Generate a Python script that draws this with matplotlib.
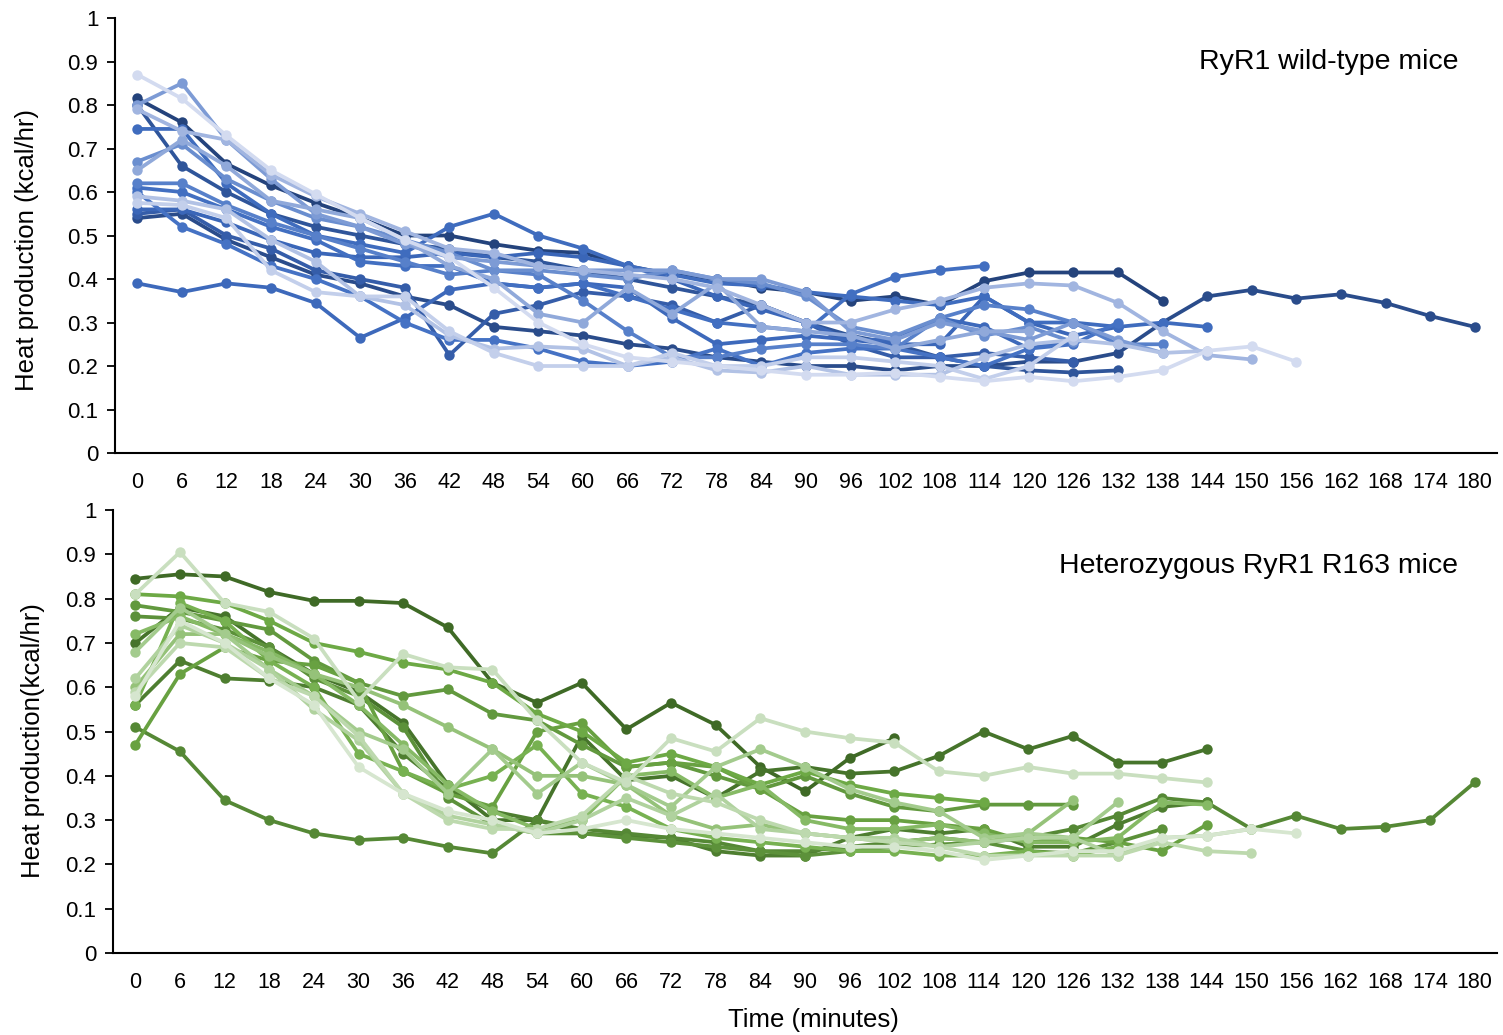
import numpy as np
import matplotlib
matplotlib.use("Agg")
import matplotlib.pyplot as plt
from matplotlib.colors import LinearSegmentedColormap

plt.rcParams["font.family"] = ["Liberation Sans", "DejaVu Sans"]

# Time points (minutes)
times = [0, 6, 12, 18, 24, 30, 36, 42, 48, 54, 60, 66, 72, 78, 84, 90,
         96, 102, 108, 114, 120, 126, 132, 138, 144, 150, 156, 162, 168, 174, 180]

# RyR1 wild-type mice, heat production (kcal/hr), one list per mouse
wt_01 = [0.815, 0.76, 0.665, 0.615, 0.575, 0.54, 0.50, 0.50, 0.48, 0.465, 0.46, 0.43, 0.41, 0.40, 0.38, 0.37,
         0.35, 0.36, 0.34, 0.395, 0.415, 0.415, 0.415, 0.35]
wt_02 = [0.54, 0.55, 0.49, 0.45, 0.41, 0.39, 0.36, 0.34, 0.29, 0.28, 0.27, 0.25, 0.24, 0.22, 0.21, 0.20,
         0.20, 0.19, 0.20, 0.20, 0.21, 0.21, 0.23, 0.30, 0.36, 0.375, 0.355, 0.365, 0.345, 0.315, 0.29]
wt_03 = [0.80, 0.66, 0.60, 0.55, 0.52, 0.50, 0.48, 0.47, 0.45, 0.44, 0.42, 0.40, 0.38, 0.36, 0.34, 0.30,
         0.27, 0.25, 0.22, 0.20, 0.19, 0.185, 0.19]
wt_04 = [0.55, 0.56, 0.50, 0.47, 0.42, 0.40, 0.38, 0.225, 0.32, 0.34, 0.37, 0.36, 0.34, 0.30, 0.34, 0.30,
         0.25, 0.22, 0.22, 0.23, 0.22, 0.21]
wt_05 = [0.56, 0.56, 0.53, 0.49, 0.46, 0.45, 0.45, 0.46, 0.45, 0.46, 0.45, 0.43, 0.40, 0.36, 0.33, 0.30,
         0.26, 0.25, 0.25, 0.36, 0.30, 0.27, 0.29]
wt_06 = [0.39, 0.37, 0.39, 0.38, 0.345, 0.265, 0.31, 0.375, 0.39, 0.38, 0.39, 0.38, 0.31, 0.25, 0.26, 0.27,
         0.26, 0.26, 0.31, 0.29, 0.24, 0.26]
wt_07 = [0.745, 0.745, 0.62, 0.55, 0.50, 0.48, 0.46, 0.52, 0.55, 0.50, 0.47, 0.43, 0.41, 0.39, 0.385, 0.37,
         0.36, 0.35, 0.34, 0.36, 0.30, 0.30, 0.29, 0.30, 0.29]
wt_08 = [0.61, 0.60, 0.56, 0.52, 0.49, 0.44, 0.43, 0.43, 0.39, 0.38, 0.39, 0.36, 0.33, 0.30, 0.29, 0.28,
         0.365, 0.405, 0.42, 0.43]
wt_09 = [0.60, 0.52, 0.48, 0.43, 0.40, 0.36, 0.30, 0.26, 0.26, 0.24, 0.21, 0.20, 0.21, 0.24, 0.20, 0.23,
         0.24, 0.24, 0.22, 0.20, 0.24, 0.25, 0.30]
wt_10 = [0.62, 0.62, 0.57, 0.53, 0.50, 0.47, 0.44, 0.41, 0.42, 0.41, 0.35, 0.28, 0.22, 0.22, 0.24, 0.25,
         0.25, 0.24, 0.31, 0.34, 0.33, 0.30, 0.25, 0.25]
wt_11 = [0.67, 0.71, 0.63, 0.58, 0.54, 0.52, 0.49, 0.46, 0.42, 0.42, 0.41, 0.40, 0.42, 0.40, 0.39, 0.36,
         0.29, 0.27, 0.31, 0.27, 0.29, 0.255]
wt_12 = [0.80, 0.85, 0.72, 0.63, 0.55, 0.52, 0.48, 0.45, 0.44, 0.43, 0.42, 0.42, 0.42, 0.40, 0.40, 0.37,
         0.28, 0.26, 0.30, 0.28, 0.26, 0.30, 0.26, 0.23]
wt_13 = [0.65, 0.72, 0.66, 0.58, 0.56, 0.54, 0.49, 0.43, 0.40, 0.32, 0.30, 0.38, 0.32, 0.39, 0.29, 0.28,
         0.27, 0.24, 0.26, 0.28, 0.28]
wt_14 = [0.79, 0.74, 0.72, 0.64, 0.59, 0.55, 0.51, 0.47, 0.46, 0.43, 0.42, 0.41, 0.40, 0.38, 0.34, 0.30,
         0.30, 0.33, 0.35, 0.38, 0.39, 0.385, 0.345, 0.28, 0.225, 0.215]
wt_15 = [0.59, 0.58, 0.56, 0.49, 0.44, 0.36, 0.34, 0.27, 0.24, 0.245, 0.24, 0.20, 0.22, 0.19, 0.185, 0.20,
         0.18, 0.18, 0.18, 0.22, 0.25, 0.26, 0.25, 0.23, 0.235]
wt_16 = [0.575, 0.57, 0.54, 0.42, 0.37, 0.36, 0.36, 0.28, 0.23, 0.20, 0.20, 0.20, 0.23, 0.20, 0.20, 0.22,
         0.22, 0.21, 0.20, 0.17, 0.20, 0.27]
wt_17 = [0.87, 0.815, 0.73, 0.65, 0.595, 0.54, 0.49, 0.45, 0.38, 0.30, 0.25, 0.22, 0.21, 0.20, 0.19, 0.18,
         0.18, 0.185, 0.175, 0.165, 0.175, 0.165, 0.175, 0.19, 0.235, 0.245, 0.21]

# Heterozygous RyR1 R163 mice
het_01 = [0.845, 0.855, 0.85, 0.815, 0.795, 0.795, 0.79, 0.735, 0.61, 0.565, 0.61, 0.505, 0.565, 0.515, 0.42,
          0.365, 0.44, 0.485]
het_02 = [0.70, 0.78, 0.76, 0.69, 0.63, 0.59, 0.52, 0.38, 0.30, 0.30, 0.49, 0.39, 0.40, 0.35, 0.41, 0.42,
          0.405, 0.41, 0.445, 0.50, 0.46, 0.49, 0.43, 0.43, 0.46]
het_03 = [0.56, 0.66, 0.62, 0.615, 0.60, 0.56, 0.45, 0.37, 0.32, 0.30, 0.27, 0.265, 0.26, 0.23, 0.22, 0.22,
          0.26, 0.28, 0.27, 0.28, 0.24, 0.24, 0.29, 0.33, 0.34]
het_04 = [0.51, 0.455, 0.345, 0.30, 0.27, 0.255, 0.26, 0.24, 0.225, 0.30, 0.28, 0.27, 0.26, 0.25, 0.23, 0.23,
          0.24, 0.25, 0.26, 0.25, 0.26, 0.28, 0.31, 0.35, 0.34, 0.28, 0.31, 0.28, 0.285, 0.30, 0.385]
het_05 = [0.76, 0.755, 0.73, 0.69, 0.62, 0.58, 0.51, 0.35, 0.29, 0.27, 0.27, 0.26, 0.25, 0.24, 0.23, 0.22,
          0.23, 0.24, 0.245, 0.25, 0.23, 0.225, 0.25, 0.28]
het_06 = [0.785, 0.77, 0.75, 0.73, 0.66, 0.61, 0.58, 0.595, 0.54, 0.525, 0.47, 0.42, 0.43, 0.40, 0.37, 0.40,
          0.36, 0.33, 0.32, 0.335, 0.335, 0.335]
het_07 = [0.47, 0.63, 0.69, 0.66, 0.65, 0.61, 0.41, 0.36, 0.33, 0.50, 0.52, 0.42, 0.43, 0.42, 0.37, 0.31,
          0.30, 0.30, 0.29, 0.28, 0.25, 0.26, 0.25, 0.23, 0.29]
het_08 = [0.81, 0.805, 0.79, 0.75, 0.70, 0.68, 0.655, 0.64, 0.61, 0.54, 0.50, 0.43, 0.45, 0.42, 0.38, 0.41,
          0.38, 0.36, 0.35, 0.34]
het_09 = [0.56, 0.79, 0.75, 0.66, 0.60, 0.45, 0.41, 0.37, 0.40, 0.47, 0.36, 0.33, 0.28, 0.26, 0.25, 0.24,
          0.23, 0.23, 0.22, 0.22, 0.23, 0.22, 0.24]
het_10 = [0.72, 0.76, 0.72, 0.68, 0.63, 0.56, 0.47, 0.38, 0.32, 0.28, 0.30, 0.40, 0.41, 0.35, 0.38, 0.30,
          0.28, 0.28, 0.29, 0.27, 0.25, 0.25, 0.26, 0.34, 0.335]
het_11 = [0.60, 0.72, 0.72, 0.67, 0.63, 0.60, 0.56, 0.51, 0.46, 0.40, 0.40, 0.38, 0.31, 0.28, 0.29, 0.27,
          0.26, 0.25, 0.26, 0.25, 0.27, 0.345]
het_12 = [0.68, 0.78, 0.72, 0.64, 0.58, 0.50, 0.46, 0.36, 0.46, 0.36, 0.43, 0.38, 0.33, 0.42, 0.46, 0.42,
          0.37, 0.34, 0.32, 0.26, 0.27, 0.26, 0.34]
het_13 = [0.62, 0.74, 0.70, 0.64, 0.55, 0.48, 0.36, 0.31, 0.29, 0.27, 0.30, 0.35, 0.31, 0.36, 0.28, 0.27,
          0.26, 0.26, 0.24, 0.25, 0.26, 0.26, 0.22, 0.26, 0.265, 0.28]
het_14 = [0.59, 0.70, 0.69, 0.62, 0.58, 0.49, 0.36, 0.30, 0.28, 0.28, 0.31, 0.40, 0.36, 0.34, 0.30, 0.27,
          0.26, 0.25, 0.24, 0.22, 0.22, 0.22, 0.22, 0.25, 0.23, 0.225]
het_15 = [0.81, 0.905, 0.79, 0.77, 0.71, 0.57, 0.675, 0.645, 0.64, 0.525, 0.43, 0.385, 0.485, 0.455, 0.53,
          0.50, 0.485, 0.475, 0.41, 0.40, 0.42, 0.405, 0.405, 0.395, 0.385]
het_16 = [0.58, 0.75, 0.70, 0.62, 0.56, 0.42, 0.36, 0.32, 0.30, 0.27, 0.28, 0.30, 0.28, 0.27, 0.26, 0.25,
          0.24, 0.24, 0.23, 0.21, 0.22, 0.23, 0.23, 0.26, 0.265, 0.28, 0.27]

wt_mice = [wt_01, wt_02, wt_03, wt_04, wt_05, wt_06, wt_07, wt_08, wt_09,
           wt_10, wt_11, wt_12, wt_13, wt_14, wt_15, wt_16, wt_17]
het_mice = [het_01, het_02, het_03, het_04, het_05, het_06, het_07, het_08,
            het_09, het_10, het_11, het_12, het_13, het_14, het_15, het_16]

# Excel-like monochromatic palettes (dark -> light)
blue_map = LinearSegmentedColormap.from_list("blues", ["#24437C", "#3A66B8", "#4472C4", "#8FA8DA", "#D3DBF0"])
green_map = LinearSegmentedColormap.from_list("greens", ["#3F6A26", "#5B8F39", "#70AD47", "#A7CD92", "#D6E6CF"])

fig = plt.figure(figsize=(15.03, 10.35), dpi=100)
ax_top = fig.add_axes([0.0765, 0.5623, 0.9195, 0.4203])
ax_bot = fig.add_axes([0.0752, 0.0792, 0.9208, 0.4280])

x_pos = np.arange(len(times))


def draw_panel(ax, mice, cmap, label, label_y):
    n = len(mice)
    for k, vals in enumerate(mice):
        col = cmap(k / (n - 1))
        ax.plot(x_pos[:len(vals)], vals, color=col, lw=2.7, marker="o", ms=7.5,
                markeredgewidth=0, solid_capstyle="round", solid_joinstyle="round")
    ax.set_xlim(-0.5, len(times) - 0.5)
    ax.set_ylim(0, 1)
    ax.set_xticks(x_pos)
    ax.set_xticklabels([str(t) for t in times], fontsize=15.5)
    ax.set_yticks(np.arange(0, 1.01, 0.1))
    ax.set_yticklabels([f"{v:g}" for v in np.round(np.arange(0, 1.01, 0.1), 1)], fontsize=16)
    ax.tick_params(axis="x", length=0, pad=14)
    ax.tick_params(axis="y", length=6, width=1.3, direction="out", pad=6)
    for side in ["top", "right"]:
        ax.spines[side].set_visible(False)
    for side in ["left", "bottom"]:
        ax.spines[side].set_linewidth(1.5)
    ax.text(0.972, label_y, label, transform=ax.transAxes, ha="right", va="center", fontsize=20.5)


draw_panel(ax_top, wt_mice, blue_map, "RyR1 wild-type mice", 0.898)
draw_panel(ax_bot, het_mice, green_map, "Heterozygous RyR1 R163 mice", 0.874)

fig.text(27 / 1503, 1 - 250 / 1035, "Heat production (kcal/hr)", rotation=90,
         ha="center", va="center", fontsize=18.5)
fig.text(33 / 1503, 1 - 741 / 1035, "Heat production(kcal/hr)", rotation=90,
         ha="center", va="center", fontsize=18.5)
fig.text(813 / 1503, 1 - 1020 / 1035, "Time (minutes)", ha="center", va="center", fontsize=18.5)

fig.savefig("out.png", dpi=100)
